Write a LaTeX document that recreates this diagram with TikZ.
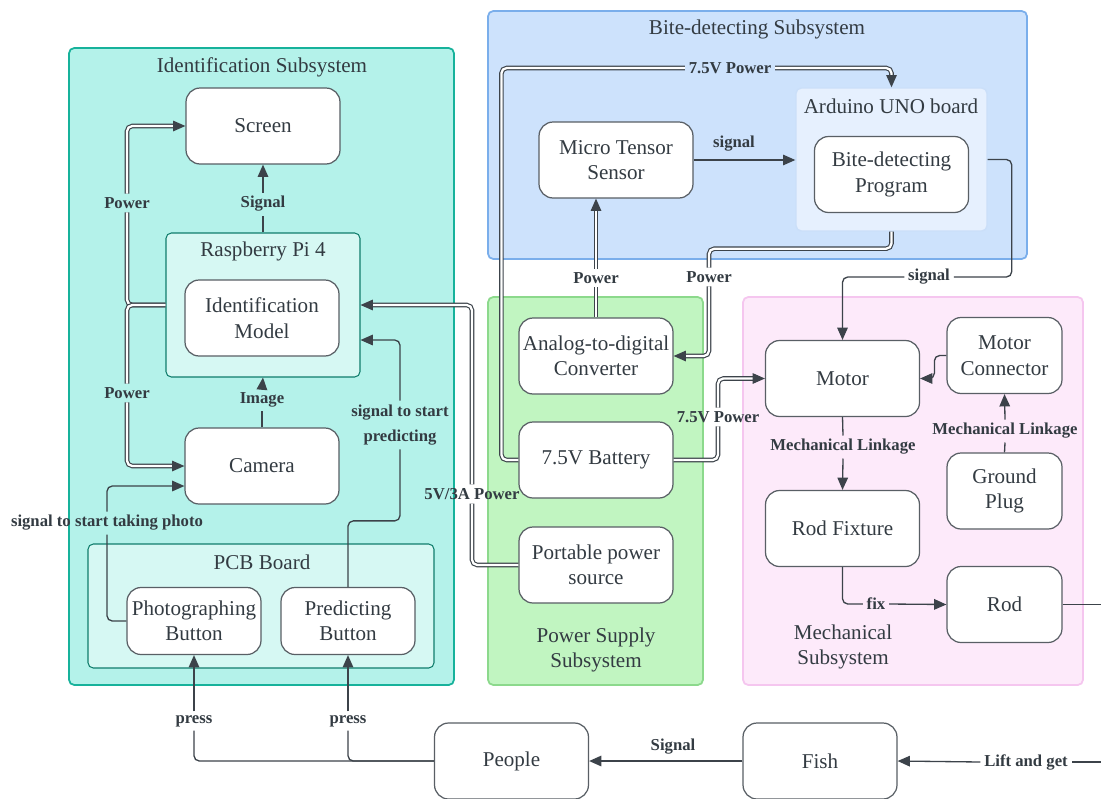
\documentclass[tikz,border=0pt]{standalone}
\usepackage{fontspec}
\setmainfont{Liberation Serif}
\usetikzlibrary{arrows.meta,calc}
\definecolor{idfill}{HTML}{B4F2EA}
\definecolor{idline}{HTML}{17B29B}
\definecolor{idin}{HTML}{D6F8F3}
\definecolor{bdfill}{HTML}{CDE2FC}
\definecolor{bdline}{HTML}{7AAEEB}
\definecolor{bdin}{HTML}{E6F0FE}
\definecolor{psfill}{HTML}{C1F5C1}
\definecolor{psline}{HTML}{8CD98C}
\definecolor{mefill}{HTML}{FDEAFA}
\definecolor{meline}{HTML}{F5C6EF}
\definecolor{edge}{HTML}{3C434A}
\definecolor{txt}{HTML}{333B42}
\begin{document}
\begin{tikzpicture}[x=0.02cm,y=-0.02cm,
  blk/.style={draw=edge!85, fill=white, rounded corners=8pt, line width=0.7pt, align=center, text=txt,
    font=\fontsize{12}{14.5}\selectfont, minimum width=3.08cm, minimum height=1.52cm, inner sep=1pt},
  sblk/.style={blk, minimum width=2.3cm},
  btn/.style={blk, minimum width=2.68cm, minimum height=1.34cm},
  grp/.style={rounded corners=3pt, line width=1pt},
  ttl/.style={text=txt, font=\fontsize{12}{14.2}\selectfont, align=center},
  lbl/.style={text=txt, font=\bfseries\fontsize{9.5}{14.7}\selectfont, align=center, inner sep=2pt},
  ln/.style={draw=edge, line width=0.75pt, rounded corners=3pt},
  sig/.style={ln, -{Triangle[length=7pt,width=6pt]}},
  pw/.style={ln, double=white, double distance=1.3pt, line width=0.65pt},
  pwa/.style={pw, -{Triangle[length=7pt,width=6pt]}}]
\path[fill=white] (0,0) rectangle (1101,798);
\useasboundingbox (0,0) rectangle (1101,798);
% subsystems
\draw[grp, fill=idfill, draw=idline] (69,48) rectangle (454,685);
\draw[grp, fill=bdfill, draw=bdline] (488,11) rectangle (1027,259);
\draw[grp, fill=psfill, draw=psline] (488,297) rectangle (703,685);
\draw[grp, fill=mefill, draw=meline] (743,297) rectangle (1083,685);
\draw[grp, fill=idin, draw=idline!70!black, line width=0.6pt] (88,544) rectangle (434,668);
\node[ttl] (tid) at (262,67) {Identification Subsystem};
\node[ttl] (tbd) at (757,29) {Bite-detecting Subsystem};
\node[ttl] (tps) at (596,649.5) {Power Supply\\Subsystem};
\node[ttl] (tme) at (843,647) {Mechanical\\Subsystem};
\node[ttl] (tpcb) at (262,562) {PCB Board};
% boards
\node[grp, fill=idin, draw=idline!70!black, line width=0.6pt, minimum width=3.88cm, minimum height=2.88cm] (rpi) at (263,305) {};
\node[ttl] (trpi) at (263,251) {Raspberry Pi 4};
\node[grp, fill=bdin, draw=bdin!75!bdline, line width=0.8pt, minimum width=3.82cm, minimum height=2.86cm] (ard) at (891.5,159.5) {};
\node[ttl] (tard) at (891,106) {Arduino UNO board};
% blocks
\node[blk] (scr) at (263,126) {Screen};
\node[blk] (idm) at (262,318) {Identification\\Model};
\node[blk] (cam) at (262,466) {Camera};
\node[btn] (pbt) at (194,621) {Photographing\\Button};
\node[btn] (prb) at (348,621) {Predicting\\Button};
\node[blk] (mts) at (616,160) {Micro Tensor\\Sensor};
\node[blk] (bdp) at (891.5,174.5) {Bite-detecting\\Program};
\node[blk] (adc) at (596,356) {Analog-to-digital\\Converter};
\node[blk] (bat) at (596,460) {7.5V Battery};
\node[blk] (pps) at (596,565) {Portable power\\source};
\node[blk] (mot) at (842.5,378.5) {Motor};
\node[sblk] (mc) at (1004.5,355.5) {Motor\\Connector};
\node[sblk] (gp) at (1004.5,491) {Ground\\Plug};
\node[blk] (rfx) at (842.5,528.5) {Rod Fixture};
\node[sblk] (rod) at (1004.5,604.5) {Rod};
\node[blk] (ppl) at (511.5,761) {People};
\node[blk] (fish) at (820,761) {Fish};
% labels
\node[lbl] (lsig) at (263,204) {Signal};
\node[lbl] (limg) at (262,400) {Image};
\node[lbl] (lpw1) at (127,203) {Power};
\node[lbl] (lpw2) at (127,393) {Power};
\node[lbl] (lphoto) at (107,523) {signal to start taking photo};
\node[lbl] (lpred) at (400,425) {signal to start\\predicting};
\node[lbl] (l5v) at (472,494) {5V/3A Power};
\node[lbl] (l75a) at (730,68) {7.5V Power};
\node[lbl] (lsigb) at (734,144) {signal};
\node[lbl] (lpwm) at (596,278) {Power};
\node[lbl] (lpwa) at (709,277) {Power};
\node[lbl] (lsigm) at (929,277) {signal};
\node[lbl] (l75b) at (718,417) {7.5V Power};
\node[lbl] (lml1) at (843,447) {Mechanical Linkage};
\node[lbl] (lml2) at (1005,431) {Mechanical Linkage};
\node[lbl] (lfix) at (876,604) {fix};
\node[lbl] (lpress1) at (194,721) {press};
\node[lbl] (lpress2) at (348,721) {press};
\node[lbl] (lsigp) at (673,747) {Signal};
\node[lbl] (llift) at (1026,762) {Lift and get};
\coordinate (rodout) at (1101,604.5);
\coordinate (liftin) at (1101,762);
% identification
\draw[ln] (rpi.north) -- (lsig.south);
\draw[sig] (lsig.north) -- (scr.south);
\draw[ln] (cam.north) -- (limg.south);
\draw[sig] (limg.north) -- (rpi.south);
\draw[pw] (rpi.west) -| (lpw1.south);
\draw[pwa] (lpw1.north) |- (scr.west);
\draw[pw] (rpi.west) -| (lpw2.north);
\draw[pwa] (lpw2.south) |- (cam.west);
\draw[ln] (pbt.west) -| (lphoto.south);
\draw[sig] (lphoto.north) |- ($(cam.west)+(0,20)$);
\draw[ln] (prb.north) -- ++(0,-66) -| (lpred.south);
\draw[sig] (lpred.north) |- ($(rpi.east)+(0,35)$);
\draw[pw] (pps.west) -| (l5v.south);
\draw[pwa] (l5v.north) |- (rpi.east);
% bite detecting
\draw[pw] (bat.west) -- ++(-17,0) |- (l75a.west);
\draw[pwa] (l75a.east) -| (ard.north);
\draw[sig] (mts.east) -- (mts.east -| ard.west);
\draw[pw] (adc.north) -- (lpwm.south);
\draw[pwa] (lpwm.north) -- (lpwm.north |- mts.south);
\draw[pw] (ard.south) -- ++(0,17) -| (lpwa.north);
\draw[pwa] (lpwa.south) |- (adc.east);
\draw[ln] (ard.east) -- ++(24,0) |- (lsigm.east);
\draw[sig] (lsigm.west) -| (mot.north);
% mechanical
\draw[pw] (bat.east) -| (l75b.south);
\draw[pwa] (l75b.north) |- (mot.west);
\draw[ln] (mot.south) -- (lml1.north);
\draw[sig] (lml1.south) -- (rfx.north);
\draw[ln] (gp.north) -- (lml2.south);
\draw[sig] (lml2.north) -- (mc.south);
\draw[sig] (mc.west) -- ++(-12,0) |- (mot.east);
\draw[ln] (rfx.south) |- (lfix.west);
\draw[sig] (lfix.east) -- (rod.west);
\draw[ln] (rod.east) -- (rodout);
% outside
\draw[ln] (liftin) -- (llift.east);
\draw[sig] (llift.west) -- (fish.east);
\draw[sig] (fish.west) -- (ppl.east);
\draw[ln] (ppl.west) -| (lpress2.south);
\draw[sig] (lpress2.north) -- (prb.south);
\draw[ln] (ppl.west) -| (lpress1.south);
\draw[sig] (lpress1.north) -- (pbt.south);
\end{tikzpicture}
\end{document}
